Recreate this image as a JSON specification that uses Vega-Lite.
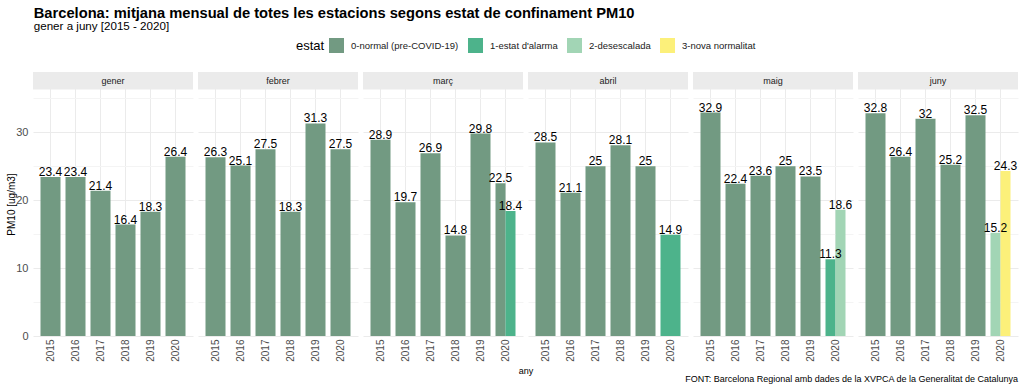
{
  "$schema": "https://vega.github.io/schema/vega-lite/v6.json",
  "padding": {"left": 6, "top": 5, "right": 4, "bottom": 2},
  "autosize": {"type": "pad"},
  "title": {
    "text": "Barcelona: mitjana mensual de totes les estacions segons estat de confinament PM10",
    "subtitle": "gener a juny [2015 - 2020]",
    "anchor": "start",
    "dx": 27,
    "fontSize": 14.7,
    "fontWeight": "bold",
    "subtitleFontSize": 11.6,
    "color": "#000000",
    "subtitleColor": "#000000",
    "subtitlePadding": 1,
    "offset": 5
  },
  "vconcat": [
    {
      "title": {
        "text": "FONT: Barcelona Regional amb dades de la XVPCA de la Generalitat de Catalunya",
        "orient": "bottom",
        "anchor": "end",
        "fontSize": 9,
        "fontWeight": "normal",
        "color": "#000000",
        "offset": -1
      },
      "data": {
        "values": [
          {"mes": "gener", "any": 2015, "estat": "0-normal (pre-COVID-19)", "valor": 23.4},
          {"mes": "gener", "any": 2016, "estat": "0-normal (pre-COVID-19)", "valor": 23.4},
          {"mes": "gener", "any": 2017, "estat": "0-normal (pre-COVID-19)", "valor": 21.4},
          {"mes": "gener", "any": 2018, "estat": "0-normal (pre-COVID-19)", "valor": 16.4},
          {"mes": "gener", "any": 2019, "estat": "0-normal (pre-COVID-19)", "valor": 18.3},
          {"mes": "gener", "any": 2020, "estat": "0-normal (pre-COVID-19)", "valor": 26.4},
          {"mes": "febrer", "any": 2015, "estat": "0-normal (pre-COVID-19)", "valor": 26.3},
          {"mes": "febrer", "any": 2016, "estat": "0-normal (pre-COVID-19)", "valor": 25.1},
          {"mes": "febrer", "any": 2017, "estat": "0-normal (pre-COVID-19)", "valor": 27.5},
          {"mes": "febrer", "any": 2018, "estat": "0-normal (pre-COVID-19)", "valor": 18.3},
          {"mes": "febrer", "any": 2019, "estat": "0-normal (pre-COVID-19)", "valor": 31.3},
          {"mes": "febrer", "any": 2020, "estat": "0-normal (pre-COVID-19)", "valor": 27.5},
          {"mes": "març", "any": 2015, "estat": "0-normal (pre-COVID-19)", "valor": 28.9},
          {"mes": "març", "any": 2016, "estat": "0-normal (pre-COVID-19)", "valor": 19.7},
          {"mes": "març", "any": 2017, "estat": "0-normal (pre-COVID-19)", "valor": 26.9},
          {"mes": "març", "any": 2018, "estat": "0-normal (pre-COVID-19)", "valor": 14.8},
          {"mes": "març", "any": 2019, "estat": "0-normal (pre-COVID-19)", "valor": 29.8},
          {"mes": "març", "any": 2020, "estat": "0-normal (pre-COVID-19)", "valor": 22.5},
          {"mes": "març", "any": 2020, "estat": "1-estat d'alarma", "valor": 18.4},
          {"mes": "abril", "any": 2015, "estat": "0-normal (pre-COVID-19)", "valor": 28.5},
          {"mes": "abril", "any": 2016, "estat": "0-normal (pre-COVID-19)", "valor": 21.1},
          {"mes": "abril", "any": 2017, "estat": "0-normal (pre-COVID-19)", "valor": 25},
          {"mes": "abril", "any": 2018, "estat": "0-normal (pre-COVID-19)", "valor": 28.1},
          {"mes": "abril", "any": 2019, "estat": "0-normal (pre-COVID-19)", "valor": 25},
          {"mes": "abril", "any": 2020, "estat": "1-estat d'alarma", "valor": 14.9},
          {"mes": "maig", "any": 2015, "estat": "0-normal (pre-COVID-19)", "valor": 32.9},
          {"mes": "maig", "any": 2016, "estat": "0-normal (pre-COVID-19)", "valor": 22.4},
          {"mes": "maig", "any": 2017, "estat": "0-normal (pre-COVID-19)", "valor": 23.6},
          {"mes": "maig", "any": 2018, "estat": "0-normal (pre-COVID-19)", "valor": 25},
          {"mes": "maig", "any": 2019, "estat": "0-normal (pre-COVID-19)", "valor": 23.5},
          {"mes": "maig", "any": 2020, "estat": "1-estat d'alarma", "valor": 11.3},
          {"mes": "maig", "any": 2020, "estat": "2-desescalada", "valor": 18.6},
          {"mes": "juny", "any": 2015, "estat": "0-normal (pre-COVID-19)", "valor": 32.8},
          {"mes": "juny", "any": 2016, "estat": "0-normal (pre-COVID-19)", "valor": 26.4},
          {"mes": "juny", "any": 2017, "estat": "0-normal (pre-COVID-19)", "valor": 32},
          {"mes": "juny", "any": 2018, "estat": "0-normal (pre-COVID-19)", "valor": 25.2},
          {"mes": "juny", "any": 2019, "estat": "0-normal (pre-COVID-19)", "valor": 32.5},
          {"mes": "juny", "any": 2020, "estat": "2-desescalada", "valor": 15.2},
          {"mes": "juny", "any": 2020, "estat": "3-nova normalitat", "valor": 24.3}
        ]
      },
      "transform": [
        {
          "window": [{"op": "count", "as": "n"}, {"op": "row_number", "as": "k"}],
          "groupby": ["mes", "any"],
          "sort": [{"field": "estat"}],
          "frame": [null, null]
        }
      ],
      "facet": {
        "column": {
          "field": "mes",
          "type": "nominal",
          "sort": ["gener", "febrer", "març", "abril", "maig", "juny"],
          "header": {
            "title": "any",
            "titleOrient": "bottom",
            "labels": false,
            "titleFontSize": 9,
            "titleFontWeight": "normal",
            "titleColor": "#000000",
            "titlePadding": -5
          }
        }
      },
      "spacing": {"column": 5},
      "spec": {
        "width": 160,
        "height": 264,
        "layer": [
          {
            "transform": [{"filter": "datum.any == 2015"}],
            "mark": {"type": "rect", "color": "#ebebeb"},
            "encoding": {
              "y": {"datum": 36.28, "type": "quantitative", "title": "PM10 [ug/m3]"},
              "y2": {"datum": 38.87}
            }
          },
          {
            "transform": [{"filter": "datum.any == 2015"}],
            "mark": {"type": "text", "fontSize": 9, "color": "#1a1a1a", "baseline": "middle"},
            "encoding": {
              "y": {"datum": 37.6, "type": "quantitative", "title": "PM10 [ug/m3]"},
              "text": {"field": "mes", "type": "nominal"}
            }
          },
          {
            "transform": [{"filter": "datum.n == 1"}],
            "mark": {"type": "bar"},
            "encoding": {
              "x": {"field": "any", "type": "ordinal", "title": null, "scale": {"paddingInner": 0.2, "paddingOuter": 0.3}},
              "y": {"field": "valor", "type": "quantitative", "stack": null, "title": "PM10 [ug/m3]", "scale": {"domain": [0, 38.87], "nice": false}},
              "color": {
                "field": "estat",
                "type": "nominal",
                "title": "estat",
                "scale": {
                  "domain": ["0-normal (pre-COVID-19)", "1-estat d'alarma", "2-desescalada", "3-nova normalitat"],
                  "range": ["#729a82", "#4db38b", "#a2d5b5", "#fcf07a"]
                }
              }
            }
          },
          {
            "transform": [{"filter": "datum.n == 2"}],
            "mark": {"type": "bar"},
            "encoding": {
              "x": {"field": "any", "type": "ordinal", "title": null},
              "xOffset": {"field": "k", "type": "ordinal", "scale": {"domain": [1, 2]}},
              "y": {"field": "valor", "type": "quantitative", "stack": null, "title": "PM10 [ug/m3]"},
              "color": {"field": "estat", "type": "nominal", "title": "estat"}
            }
          },
          {
            "transform": [{"filter": "datum.n == 1"}],
            "mark": {"type": "text", "fontSize": 12, "color": "#000000", "baseline": "alphabetic", "dy": -1},
            "encoding": {
              "x": {"field": "any", "type": "ordinal", "title": null},
              "y": {"field": "valor", "type": "quantitative", "stack": null, "title": "PM10 [ug/m3]"},
              "text": {"field": "valor", "type": "quantitative"}
            }
          },
          {
            "transform": [{"filter": "datum.n == 2"}],
            "mark": {"type": "text", "fontSize": 12, "color": "#000000", "baseline": "alphabetic", "dy": -1},
            "encoding": {
              "x": {"field": "any", "type": "ordinal", "title": null},
              "xOffset": {"field": "k", "type": "ordinal"},
              "y": {"field": "valor", "type": "quantitative", "stack": null, "title": "PM10 [ug/m3]"},
              "text": {"field": "valor", "type": "quantitative"}
            }
          }
        ]
      }
    }
  ],
  "config": {
    "font": "Liberation Sans",
    "view": {"stroke": null},
    "scale": {"offsetBandPaddingInner": 0, "offsetBandPaddingOuter": 0},
    "axis": {
      "domain": false,
      "ticks": false,
      "gridColor": "#ebebeb",
      "labelColor": "#4d4d4d",
      "labelFontSize": 10,
      "titleFontWeight": "normal",
      "titleColor": "#000000",
      "titleFontSize": 10
    },
    "axisX": {"grid": true, "bandPosition": 0.5, "labelAngle": -90, "labelPadding": 3},
    "axisY": {
      "grid": true,
      "values": [0, 5, 10, 15, 20, 25, 30, 35],
      "labelExpr": "datum.value % 10 == 0 ? datum.label : ''",
      "gridColor": {"condition": {"test": "datum.value % 10 != 0", "value": "#f4f4f4"}, "value": "#ebebeb"},
      "labelFontSize": 11,
      "labelPadding": 5,
      "titlePadding": -1
    },
    "legend": {
      "orient": "none",
      "legendX": 263,
      "legendY": -34,
      "direction": "horizontal",
      "titleOrient": "left",
      "titleFontSize": 13,
      "titleFontWeight": "normal",
      "titleColor": "#000000",
      "titleBaseline": "middle",
      "symbolType": "square",
      "symbolSize": 225,
      "symbolStrokeWidth": 0,
      "symbolOpacity": 1,
      "labelFontSize": 9.5,
      "labelColor": "#1a1a1a",
      "labelOffset": 7,
      "columnPadding": 9,
      "titlePadding": 4
    }
  }
}
